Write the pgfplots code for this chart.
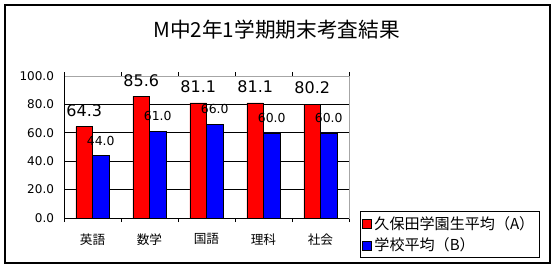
\documentclass[border=0pt]{standalone}
\usepackage{pgfplots}
\pgfplotsset{compat=1.18}
\usepackage{fontspec}
\setmainfont{Noto Sans CJK JP}
\newfontfamily\numfont{DejaVu Sans}
\begin{document}
\begin{tikzpicture}
\useasboundingbox (0,0) rectangle (417pt,201.75pt);
\draw[black, line width=0.8pt] (3.75pt,4.5pt) rectangle (412.5pt,198pt);
\node[font=\fontsize{15.5pt}{17pt}\selectfont, inner sep=0pt] at (207.4pt,179.25pt) {M中2年1学期期末考査結果};
\begin{axis}[
  at={(48pt,38.25pt)}, anchor=south west,
  width=213.75pt, height=106.5pt, scale only axis,
  xmin=-0.5, xmax=4.5, ymin=0, ymax=100,
  xtick={0,1,2,3,4},
  xticklabels={英語,数学,国語,理科,社会},
  minor xtick={-0.5,0.5,1.5,2.5,3.5,4.5},
  major tick length=0pt, minor tick length=3pt,
  tick align=outside,
  every tick/.style={black, line width=0.5pt},
  ytick={0,20,...,100},
  ymajorgrids, grid style={black, line width=0.6pt},
  axis line style={gray!70, line width=0.6pt},
  yticklabel style={font=\numfont\fontsize{9pt}{10pt}\selectfont, xshift=-4pt},
  /pgf/number format/assume math mode=true,
  yticklabel={\pgfmathprintnumber[fixed,precision=1,zerofill]{\tick}},
  xticklabel style={font=\fontsize{9.5pt}{11pt}\selectfont, yshift=-8pt},
  ybar, bar width=12.4pt,
  legend style={at={(1.668,-0.282)}, anchor=south east, draw=black, line width=0.6pt,
    font=\fontsize{11.3pt}{13pt}\selectfont, inner sep=1.5pt, row sep=1pt,
    legend cell align=left},
  legend image code/.code={\draw[#1, draw=black, line width=0.4pt] (0pt,-3.5pt) rectangle (7pt,3.5pt);},
]
\addplot[fill=red, draw=black, line width=0.4pt, bar shift=-6.2pt,
  nodes near coords={\pgfmathprintnumber[fixed,precision=1,zerofill]{\pgfplotspointmeta}},
  every node near coord/.append style={font=\numfont\fontsize{12pt}{14pt}\selectfont, anchor=center, yshift=12pt, text=black}]
  coordinates {(0,64.3) (1,85.6) (2,81.1) (3,81.1) (4,80.2)};
\addlegendentry{久保田学園生平均（A）}
\addplot[fill=blue, draw=black, line width=0.4pt, bar shift=6.2pt,
  nodes near coords={\pgfmathprintnumber[fixed,precision=1,zerofill]{\pgfplotspointmeta}},
  every node near coord/.append style={font=\numfont\fontsize{9.3pt}{11pt}\selectfont, anchor=center, yshift=11.25pt, text=black}]
  coordinates {(0,44.0) (1,61.0) (2,66.0) (3,60.0) (4,60.0)};
\addlegendentry{学校平均（B）}
\draw[black, line width=0.6pt] (rel axis cs:0,1) -- (rel axis cs:0,0) -- (rel axis cs:1,0);
\end{axis}
\end{tikzpicture}
\end{document}
